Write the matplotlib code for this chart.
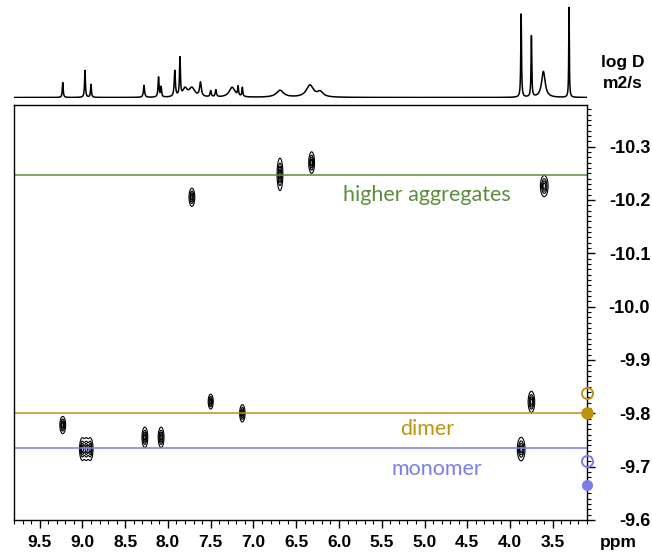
#!/usr/bin/env python3
"""DOSY map of the sample with monomer / dimer / aggregate diffusion levels."""

import matplotlib
matplotlib.use("Agg")
import matplotlib.pyplot as plt
import numpy as np
from matplotlib.ticker import MultipleLocator, FormatStrFormatter

# 1H projection: peak position (ppm), height (px-ish units), half width (ppm)
spec_ppm = [9.23, 8.97, 8.90, 8.28, 8.11, 8.08, 7.92, 7.86, 7.80, 7.72, 7.62, 7.50, 7.44,
            7.25, 7.18, 7.13, 6.69, 6.34, 6.22, 3.87, 3.75, 3.61, 3.31]
spec_height = [15, 27, 13, 12, 20, 10, 26, 38, 8, 9, 14, 6, 7,
               10, 9, 9, 7, 12, 5, 84, 61, 26, 90]
spec_hwhm = [0.006, 0.006, 0.006, 0.008, 0.007, 0.006, 0.008, 0.006, 0.03, 0.04, 0.012, 0.008, 0.008,
             0.04, 0.006, 0.006, 0.05, 0.05, 0.04, 0.005, 0.005, 0.025, 0.004]

# DOSY cross peaks: chemical shift, log D, and spread along each axis
peak_ppm = [9.23, 9.00, 8.955, 8.91, 8.27, 8.08, 7.50, 7.13,
            3.87, 3.75, 7.72, 6.69, 6.32, 3.60]
peak_logd = [-9.778, -9.733, -9.733, -9.733, -9.755, -9.755, -9.822, -9.800,
             -9.733, -9.8215, -10.205, -10.248, -10.270, -10.226]
peak_sx = [0.0150, 0.0150, 0.0150, 0.0150, 0.0150, 0.0150, 0.0130, 0.0140,
           0.0200, 0.0170, 0.0150, 0.0150, 0.0150, 0.0200]
peak_sy = [0.0072, 0.0095, 0.0095, 0.0095, 0.0085, 0.0085, 0.0062, 0.0072,
           0.0098, 0.0088, 0.0076, 0.0135, 0.0090, 0.0088]

# diffusion levels and reference points on the log D axis
aggregate_logd = -10.246
dimer_logd = -9.800
monomer_logd = -9.735
dimer_ref = [-9.839, -9.800]      # open, filled
monomer_ref = [-9.710, -9.665]    # open, filled

xticks = [9.5, 9.0, 8.5, 8.0, 7.5, 7.0, 6.5, 6.0, 5.5, 5.0, 4.5, 4.0, 3.5]

GREEN = "#5e8c3e"
GOLD = "#bb9511"
BLUE = "#7d7de8"

plt.rcParams["font.family"] = ["Liberation Sans", "DejaVu Sans"]

W, H = 652, 553
fig = plt.figure(figsize=(W / 100, H / 100), dpi=100)

left, right, top, bottom = 14, 587, 105, 520
ax = fig.add_axes([left / W, 1 - bottom / H, (right - left) / W, (bottom - top) / H])
ax_spec = fig.add_axes([left / W, 1 - 98 / H, (right - left) / W, 98 / H])

xlim = (9.8, 3.1)
ylim = (-9.6, -10.378)

# projection
x = np.linspace(xlim[0], xlim[1], 6000)
spec = np.zeros_like(x)
for p, h, w in zip(spec_ppm, spec_height, spec_hwhm):
    spec += h * w ** 2 / ((x - p) ** 2 + w ** 2)
ax_spec.plot(x, spec, color="black", lw=1.1)
ax_spec.set_xlim(*xlim)
ax_spec.set_ylim(-0.5, 97.5)
ax_spec.axis("off")

# contour map
gx = np.linspace(xlim[0], xlim[1], 1500)
gy = np.linspace(ylim[0], ylim[1], 600)
X, Y = np.meshgrid(gx, gy)
Z = np.zeros_like(X)
for p, d, sx, sy in zip(peak_ppm, peak_logd, peak_sx, peak_sy):
    Z += np.exp(-((X - p) ** 2 / (2 * sx ** 2) + (Y - d) ** 2 / (2 * sy ** 2)))
ax.contour(X, Y, Z, levels=[0.08, 0.3, 0.55, 0.8], colors="black", linewidths=0.8)

ax.axhline(aggregate_logd, color=GREEN, lw=1.1)
ax.axhline(dimer_logd, color=GOLD, lw=1.1)
ax.axhline(monomer_logd, color=BLUE, lw=1.1)

txt = dict(family=["Lato", "DejaVu Sans"], fontsize=15.5, ha="center", va="center")
ax.text(4.97, -10.21, "higher aggregates", color=GREEN, **txt)
ax.text(4.97, -9.770, "dimer", color=GOLD, **txt)
ax.text(4.85, -9.695, "monomer", color=BLUE, **txt)

ax.plot([xlim[1]], [dimer_ref[0]], "o", mfc="none", mec=GOLD, ms=8, mew=1.4, clip_on=False, zorder=5)
ax.plot([xlim[1]], [dimer_ref[1]], "o", mfc=GOLD, mec=GOLD, ms=8, clip_on=False, zorder=5)
ax.plot([xlim[1]], [monomer_ref[0]], "o", mfc="none", mec=BLUE, ms=8, mew=1.4, clip_on=False, zorder=5)
ax.plot([xlim[1]], [monomer_ref[1]], "o", mfc=BLUE, mec=BLUE, ms=7, clip_on=False, zorder=5)

ax.set_xlim(*xlim)
ax.set_ylim(*ylim)
for s in ax.spines.values():
    s.set_linewidth(1.0)

ax.set_xticks(xticks)
ax.xaxis.set_minor_locator(MultipleLocator(0.1))
ax.xaxis.set_major_formatter(FormatStrFormatter("%.1f"))
ax.tick_params(axis="x", which="major", direction="out", length=5.8, width=1.0,
               labelsize=12.5, pad=5)
ax.tick_params(axis="x", which="minor", direction="out", length=3, width=0.8)

ax.yaxis.tick_right()
ax.yaxis.set_major_locator(MultipleLocator(0.1))
ax.yaxis.set_minor_locator(MultipleLocator(0.01))
ax.yaxis.set_major_formatter(FormatStrFormatter("%.1f"))
ax.tick_params(axis="y", which="major", direction="out", length=5.5, width=1.0,
               labelsize=13, pad=40)
ax.tick_params(axis="y", which="minor", direction="out", length=3, width=0.8)
for lab in ax.get_xticklabels() + ax.get_yticklabels():
    lab.set_fontweight("bold")
for lab in ax.get_yticklabels():
    lab.set_horizontalalignment("right")

fig.text(618 / W, 1 - 542 / H, "ppm", fontsize=12.5, fontweight="bold", ha="center", va="center")
fig.text(623 / W, 1 - 63 / H, "log D", fontsize=12.5, fontweight="bold", ha="center", va="center")
fig.text(623 / W, 1 - 84 / H, "m2/s", fontsize=12.5, fontweight="bold", ha="center", va="center")

fig.savefig("out.png", dpi=100)
